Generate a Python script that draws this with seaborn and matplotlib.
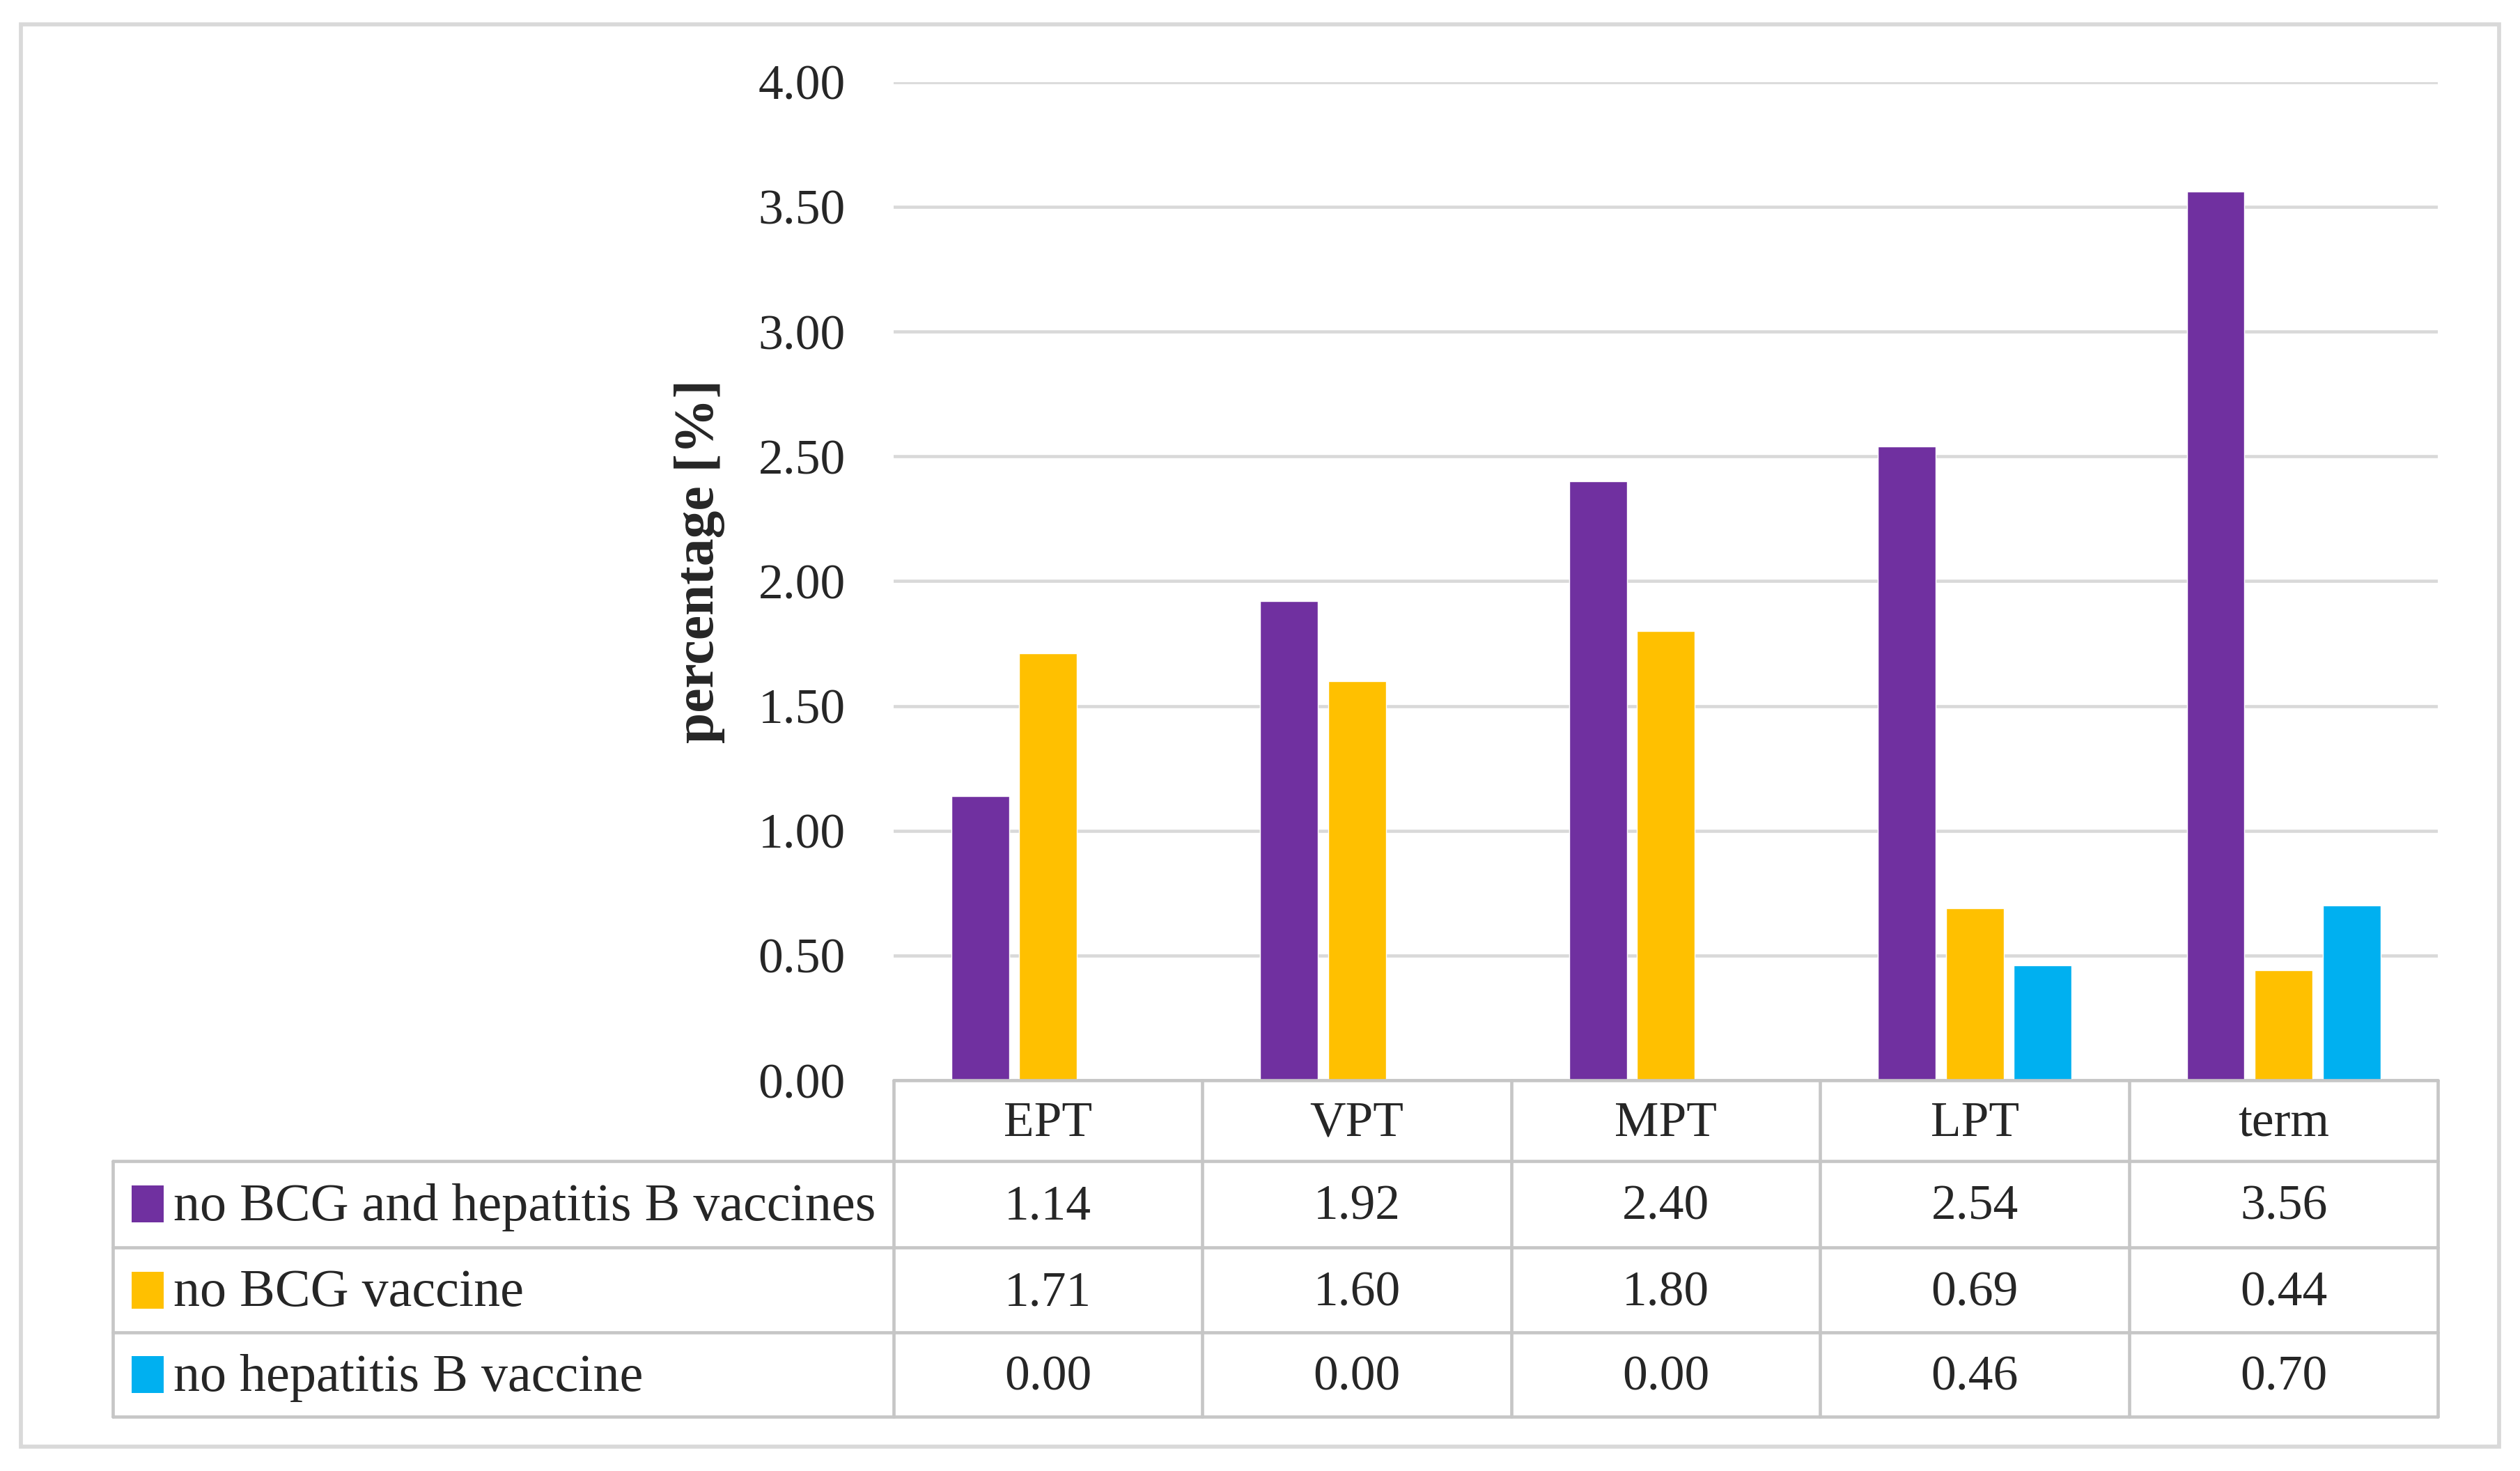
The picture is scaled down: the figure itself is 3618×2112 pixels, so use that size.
import matplotlib.pyplot as plt
import numpy as np
import pandas as pd
import seaborn as sns
from matplotlib.patches import Rectangle

categories = ["EPT", "VPT", "MPT", "LPT", "term"]
series = [
    "no BCG and hepatitis B vaccines",
    "no BCG vaccine",
    "no hepatitis B vaccine",
]
both_missing = [1.14, 1.92, 2.40, 2.54, 3.56]
bcg_missing = [1.71, 1.60, 1.80, 0.69, 0.44]
hepb_missing = [0.00, 0.00, 0.00, 0.46, 0.70]
colors = ["#7030A0", "#FFC000", "#00B0F0"]
y_ticks = [0.0, 0.5, 1.0, 1.5, 2.0, 2.5, 3.0, 3.5, 4.0]

values = [both_missing, bcg_missing, hepb_missing]
df = pd.DataFrame(
    [(c, s, v) for s, vals in zip(series, values) for c, v in zip(categories, vals)],
    columns=["category", "series", "value"],
)

# layout grid in "screen" px (reference at 1568 wide), converted to points
W, H = 1568, 915
PT = 36.18 / W * 72  # points per layout px
FS = 31 * PT
GRID = "#D9D9D9"
LINE = "#C6C6C6"

sns.set_style("white")
plt.rcParams["font.family"] = ["Liberation Serif", "DejaVu Serif"]

fig = plt.figure(figsize=(36.18, 21.12), dpi=100)

x0, x1, y_top, y_zero = 556, 1517, 51, 672
ax = fig.add_axes([x0 / W, 1 - y_zero / H, (x1 - x0) / W, (y_zero - y_top) / H])
sns.barplot(
    data=df, x="category", y="value", hue="series",
    order=categories, hue_order=series, palette=colors,
    width=0.66, gap=0.15, saturation=1, errorbar=None, legend=False, ax=ax,
)
ax.set_xlim(-0.5, len(categories) - 0.5)
ax.set_ylim(0, 4)
ax.set_yticks(y_ticks)
ax.set_yticklabels([f"{v:.2f}" for v in y_ticks], fontsize=FS)
ax.set_xticks([])
ax.set_xlabel("")
ax.set_ylabel("percentage [%]", fontsize=34.5 * PT, fontweight="bold")
ax.yaxis.set_label_coords((451 - x0) / (x1 - x0), 0.52)
ax.tick_params(axis="y", length=0, pad=30 * PT)
for sp in ax.spines.values():
    sp.set_visible(False)
ax.yaxis.grid(True, color=GRID, lw=2 * PT)
ax.set_axisbelow(True)

# data table under the plot
tb = fig.add_axes([0, 0, 1, 1])
tb.set_xlim(0, W)
tb.set_ylim(H, 0)
tb.axis("off")

col_w = (x1 - x0) / len(categories)
col_edges = [x0 + i * col_w for i in range(len(categories) + 1)]
row_edges = [y_zero, 722, 776, 829, 881]
tab_left = 70
lw = 2 * PT

tb.plot([x0, x1], [y_zero, y_zero], color=LINE, lw=lw)
for y in row_edges[1:]:
    tb.plot([tab_left, x1], [y, y], color=LINE, lw=lw)
for x in col_edges:
    tb.plot([x, x], [y_zero, row_edges[-1]], color=LINE, lw=lw)
tb.plot([tab_left, tab_left], [row_edges[1], row_edges[-1]], color=LINE, lw=lw)

hy = (row_edges[0] + row_edges[1]) / 2 + 2
for i, cat in enumerate(categories):
    cx = (col_edges[i] + col_edges[i + 1]) / 2
    tb.text(cx, hy, cat, ha="center", va="center", fontsize=FS)

for r, (name, vals, col) in enumerate(zip(series, values, colors)):
    cy = (row_edges[r + 1] + row_edges[r + 2]) / 2
    tb.add_patch(Rectangle((82, cy - 11.5), 20, 23, color=col, lw=0))
    tb.text(108, cy + 2, name, ha="left", va="center", fontsize=33 * PT)
    for i, v in enumerate(vals):
        cx = (col_edges[i] + col_edges[i + 1]) / 2
        tb.text(cx, cy + 2, f"{v:.2f}", ha="center", va="center", fontsize=FS)

# outer frame
tb.add_patch(Rectangle((13, 15), 1542, 885, fill=False, edgecolor=GRID, lw=2.5 * PT))

fig.savefig("out.png", dpi=100)
